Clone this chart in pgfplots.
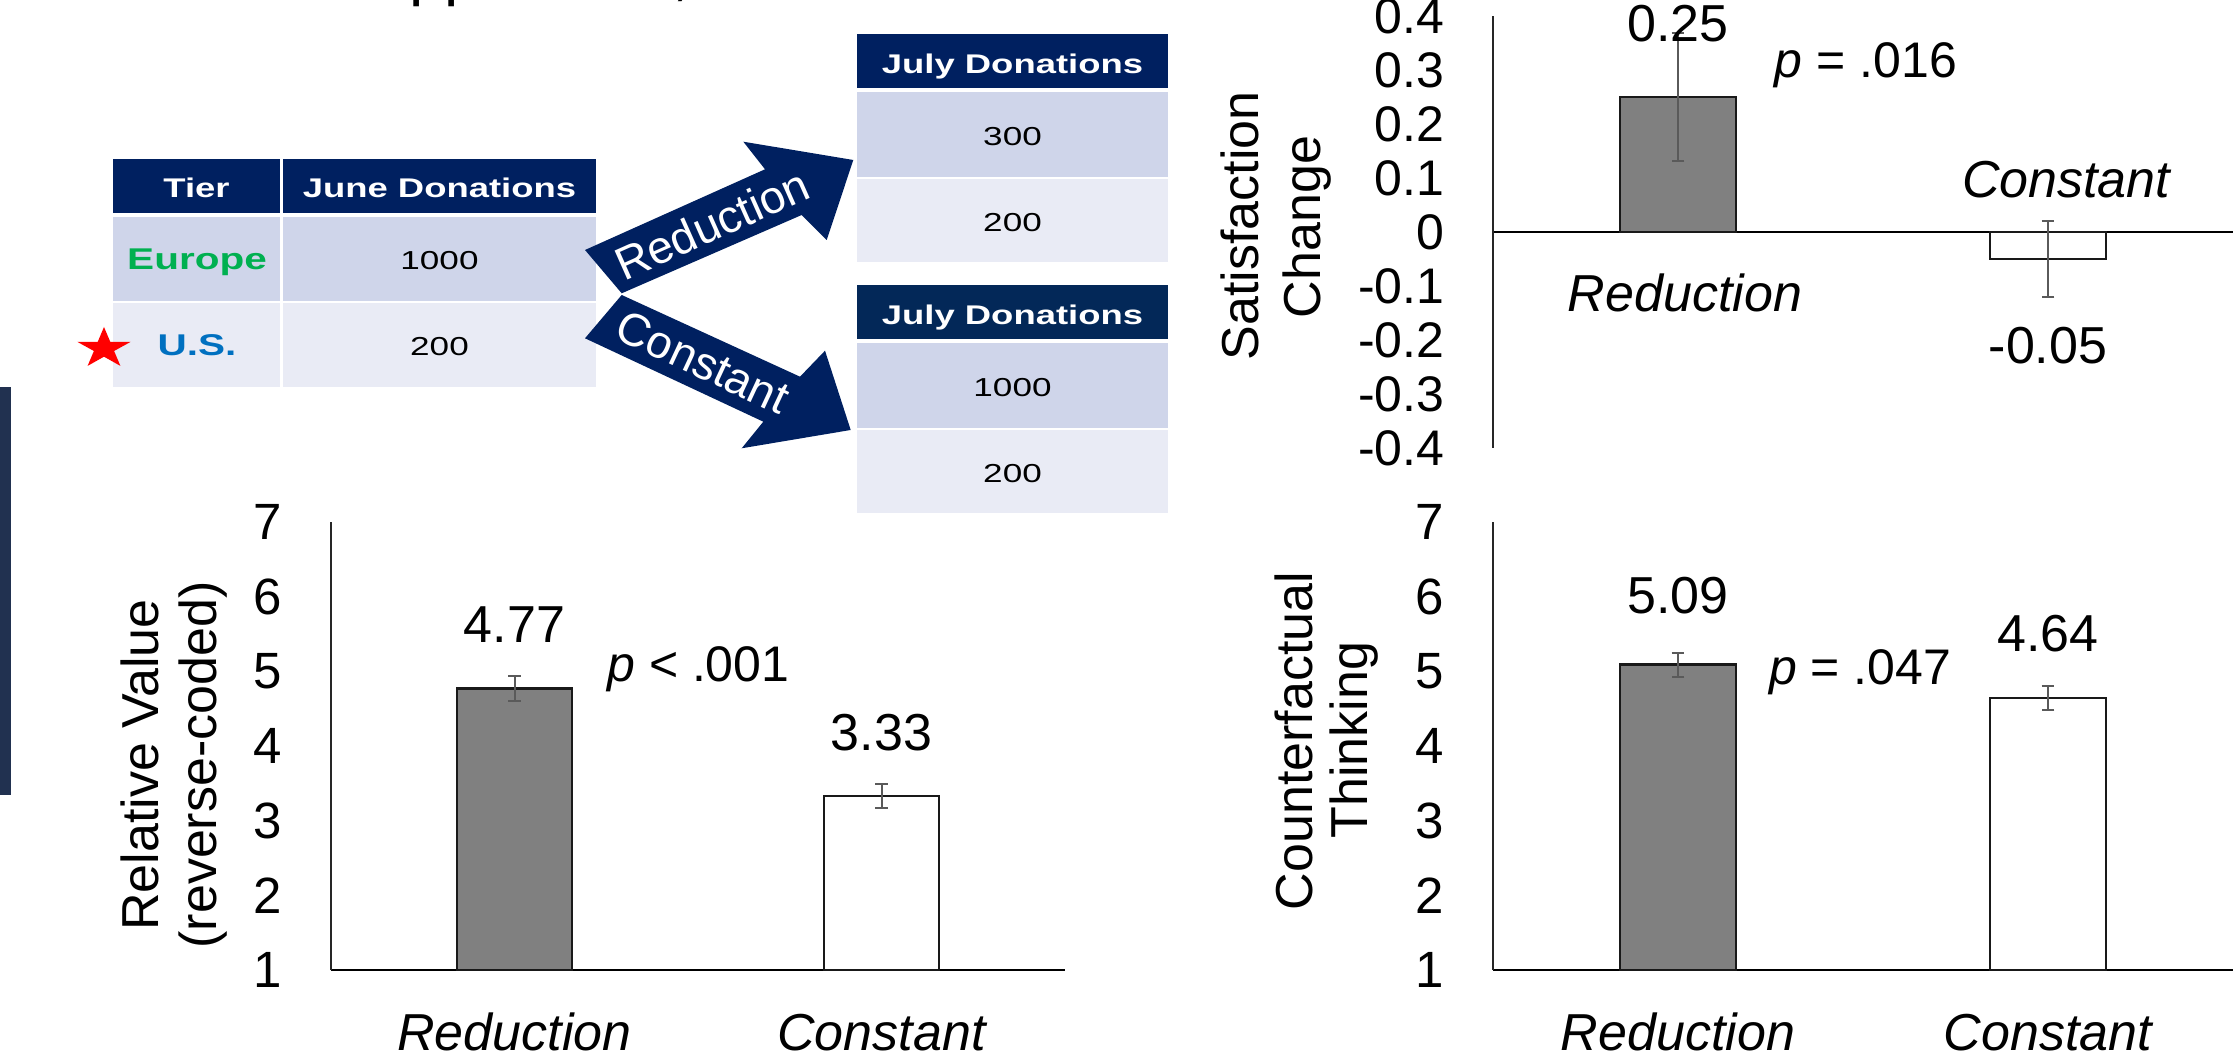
\documentclass[border=0pt]{standalone}
\usepackage{fontspec}
\setmainfont{Liberation Sans}
\newfontfamily\tabfont[FakeStretch=1.35]{Liberation Sans}
\usepackage{pgfplots}
\pgfplotsset{compat=1.18}
\definecolor{navy}{RGB}{0,32,96}
\definecolor{navytwo}{RGB}{3,40,88}
\definecolor{bandA}{RGB}{207,213,234}
\definecolor{bandB}{RGB}{233,235,245}
\definecolor{eugreen}{RGB}{0,176,80}
\definecolor{usblue}{RGB}{0,112,192}
\definecolor{darkbar}{RGB}{33,49,80}
\definecolor{bargray}{RGB}{128,128,128}
\definecolor{errgray}{RGB}{90,90,90}
\newcommand{\fs}[1]{\fontsize{#1}{#1}\selectfont}
\pgfplotsset{
  barchart/.style={
    scale only axis, clip mode=individual,
    xmin=-0.5, xmax=1.5,
    axis y line=left,
    y axis line style={-, line width=0.5pt, draw=black!85},
    major tick length=0pt,
    /pgf/number format/assume math mode=true,
    yticklabel style={anchor=east, inner sep=0pt, xshift=-12pt},
  },
  gbar/.style={ybar, bar shift=0pt, draw=black!90, line width=0.6pt},
  ebars/.style={error bars/.cd, y dir=both, y explicit,
    error bar style={line width=0.5pt, draw=errgray},
    error mark options={rotate=90, mark size=1.6pt, line width=0.5pt, draw=errgray}},
}
\begin{document}
\begin{tikzpicture}[x=0.25pt,y=-0.25pt]
\path[use as bounding box] (0,0) rectangle (2234,1056);

% cut-off heading text at the top
\node[anchor=base west, inner sep=0pt, font=\fs{16}] at (330,-6) {Supplement,};

% dark side bar
\fill[darkbar] (0,387) rectangle (11,795);

% ---------- left table ----------
\fill[navy] (113,159) rectangle (280,213);
\fill[navy] (283,159) rectangle (596,213);
\fill[bandA] (113,217) rectangle (280,301);
\fill[bandA] (283,217) rectangle (596,301);
\fill[bandB] (113,303) rectangle (280,387);
\fill[bandB] (283,303) rectangle (596,387);
\node[anchor=base, inner sep=0pt, text=white, font=\tabfont\bfseries\fs{6.75}] at (196.5,198) {Tier};
\node[anchor=base, inner sep=0pt, text=white, font=\tabfont\bfseries\fs{6.75}] at (439.5,198) {June Donations};
\node[anchor=base, inner sep=0pt, text=eugreen, font=\tabfont\bfseries\fs{7.5}] at (197,270) {Europe};
\node[anchor=base, inner sep=0pt, text=usblue, font=\tabfont\bfseries\fs{7.5}] at (197,356) {U.S.};
\node[anchor=base, inner sep=0pt, font=\tabfont\fs{6.5}] at (439.5,270) {1000};
\node[anchor=base, inner sep=0pt, font=\tabfont\fs{6.5}] at (439.5,356) {200};
% red star
\fill[red] (104,327) -- (97.7,341.9) -- (77.4,341.9) -- (93.9,351.0) -- (87.6,365.9)
  -- (104,356.7) -- (120.4,365.9) -- (114.1,351.0) -- (130.6,341.9) -- (110.3,341.9) -- cycle;

% ---------- July tables ----------
\fill[navy] (857,34) rectangle (1168,88);
\fill[bandA] (857,92) rectangle (1168,177);
\fill[bandB] (857,179) rectangle (1168,262);
\node[anchor=base, inner sep=0pt, text=white, font=\tabfont\bfseries\fs{6.75}] at (1012.5,74) {July Donations};
\node[anchor=base, inner sep=0pt, font=\tabfont\fs{6.5}] at (1012.5,145.5) {300};
\node[anchor=base, inner sep=0pt, font=\tabfont\fs{6.5}] at (1012.5,231.5) {200};

\fill[navytwo] (857,285) rectangle (1168,339);
\fill[bandA] (857,343) rectangle (1168,428);
\fill[bandB] (857,430) rectangle (1168,513);
\node[anchor=base, inner sep=0pt, text=white, font=\tabfont\bfseries\fs{6.75}] at (1012.5,325) {July Donations};
\node[anchor=base, inner sep=0pt, font=\tabfont\fs{6.5}] at (1012.5,397) {1000};
\node[anchor=base, inner sep=0pt, font=\tabfont\fs{6.5}] at (1012.5,482.5) {200};

% ---------- arrows ----------
\fill[navy] (585,250) -- (621.7,293.3) -- (801.7,215) -- (826.7,240) -- (853.3,160)
  -- (743.3,141.7) -- (765,169.3) -- cycle;
\fill[navy] (621.7,295) -- (585,338.3) -- (763.3,421.7) -- (741.7,448.3) -- (850.7,430)
  -- (825,350.7) -- (800,376.7) -- cycle;
\node[rotate=24, text=white, font=\fs{11.5}, inner sep=0pt] at (712,224) {Reduction};
\node[rotate=-25, text=white, font=\fs{11.5}, inner sep=0pt] at (703,362) {Constant};

% ---------- top-right: Satisfaction Change ----------
\begin{axis}[barchart,
  at={(373.25pt,-112pt)}, anchor=south west,
  width=185pt, height=108pt,
  ymin=-0.4, ymax=0.4,
  ytick={-0.4,-0.3,-0.2,-0.1,0,0.1,0.2,0.3,0.4},
  yticklabel style={font=\fs{12.5}, /pgf/number format/fixed, /pgf/number format/precision=1},
  axis x line=middle, xtick=\empty,
  x axis line style={-, line width=0.55pt, draw=black},
]
\addplot[gbar, bar width=29pt, fill=bargray, ebars] coordinates {(0,0.25) +- (0,0.118)};
\addplot[gbar, bar width=29pt, fill=white, ebars] coordinates {(1,-0.05) +- (0,0.07)};
\node[anchor=base, inner sep=0pt, font=\fs{13}] at (axis cs:0,0.352) {0.25};
\node[anchor=base, inner sep=0pt, font=\fs{13}] at (axis cs:1,-0.243) {-0.05};
\node[anchor=base, inner sep=0pt, font=\fs{12.5}] at (axis cs:0.508,0.287) {\textit{p} = .016};
\node[anchor=base, inner sep=0pt, font=\fs{13}\itshape] at (axis cs:1.049,0.063) {Constant};
\node[anchor=base, inner sep=0pt, font=\fs{13}\itshape] at (axis cs:0.019,-0.148) {Reduction};
\end{axis}
\node[rotate=90, anchor=base, inner sep=0pt, font=\fs{13}] at (1258,226) {Satisfaction};
\node[rotate=90, anchor=base, inner sep=0pt, font=\fs{13}] at (1320,227) {Change};

% ---------- bottom-left: Relative Value ----------
\begin{axis}[barchart,
  at={(82.75pt,-242.5pt)}, anchor=south west,
  width=183.5pt, height=112pt,
  ymin=1, ymax=7, ytick={1,2,3,4,5,6,7},
  yticklabel style={font=\fs{12.75}},
  axis x line=bottom, x axis line style={-, line width=0.7pt, draw=black},
  xtick={0,1}, xticklabels={Reduction,Constant},
  xticklabel style={font=\fs{13}\itshape, anchor=base, inner sep=0pt, yshift=-20pt},
]
\addplot[gbar, bar width=28.75pt, fill=bargray, ebars] coordinates {(0,4.77) +- (0,0.17)};
\addplot[gbar, bar width=28.75pt, fill=white, ebars] coordinates {(1,3.33) +- (0,0.16)};
\node[anchor=base, inner sep=0pt, font=\fs{13}] at (axis cs:0,5.39) {4.77};
\node[anchor=base, inner sep=0pt, font=\fs{13}] at (axis cs:1,3.94) {3.33};
\node[anchor=base, inner sep=0pt, font=\fs{12.5}] at (axis cs:0.501,4.86) {\textit{p} < .001};
\end{axis}
\node[rotate=90, anchor=base, inner sep=0pt, font=\fs{13}] at (158,765) {Relative Value};
\node[rotate=90, anchor=base, inner sep=0pt, font=\fs{13}] at (216,765) {(reverse-coded)};

% ---------- bottom-right: Counterfactual Thinking ----------
\begin{axis}[barchart,
  at={(373.25pt,-242.5pt)}, anchor=south west,
  width=185pt, height=112pt,
  ymin=1, ymax=7, ytick={1,2,3,4,5,6,7},
  yticklabel style={font=\fs{12.75}},
  axis x line=bottom, x axis line style={-, line width=0.7pt, draw=black},
  xtick={0,1}, xticklabels={Reduction,Constant},
  xticklabel style={font=\fs{13}\itshape, anchor=base, inner sep=0pt, yshift=-20pt},
]
\addplot[gbar, bar width=29pt, fill=bargray, ebars] coordinates {(0,5.09) +- (0,0.16)};
\addplot[gbar, bar width=29pt, fill=white, ebars] coordinates {(1,4.64) +- (0,0.16)};
\node[anchor=base, inner sep=0pt, font=\fs{13}] at (axis cs:0,5.77) {5.09};
\node[anchor=base, inner sep=0pt, font=\fs{13}] at (axis cs:1,5.27) {4.64};
\node[anchor=base, inner sep=0pt, font=\fs{12.5}] at (axis cs:0.492,4.83) {\textit{p} = .047};
\end{axis}
\node[rotate=90, anchor=base, inner sep=0pt, font=\fs{13}] at (1312,741) {Counterfactual};
\node[rotate=90, anchor=base, inner sep=0pt, font=\fs{13}] at (1367,740) {Thinking};

\end{tikzpicture}
\end{document}
